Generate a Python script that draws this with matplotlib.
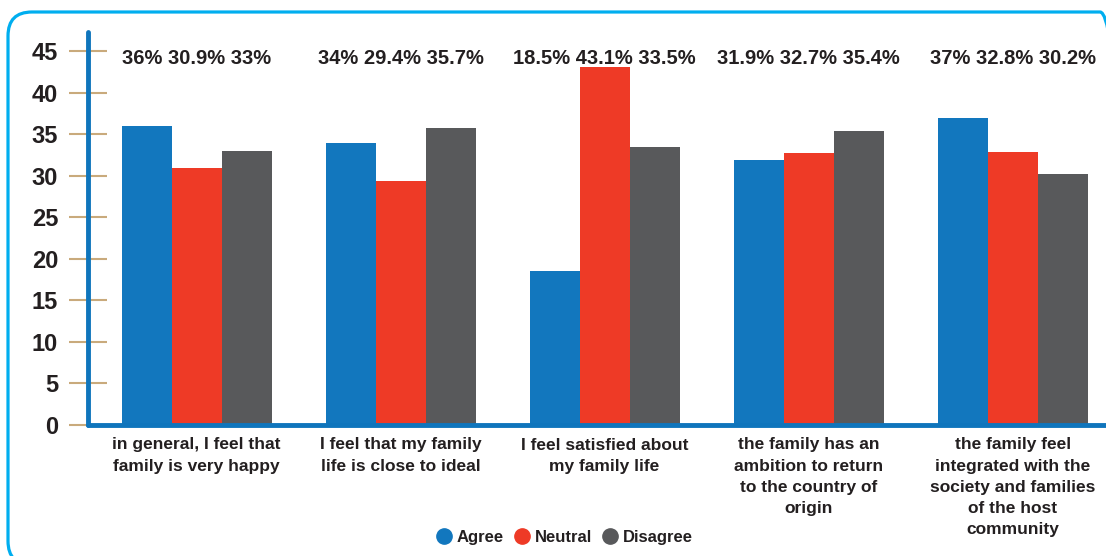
import matplotlib.pyplot as plt
from matplotlib.lines import Line2D
from matplotlib.patches import FancyBboxPatch
import numpy as np

plt.rcParams['font.family'] = ['Liberation Sans', 'DejaVu Sans']
plt.rcParams['font.weight'] = 'bold'

categories = [
    "in general, I feel that\nfamily is very happy",
    "I feel that my family\nlife is close to ideal",
    "I feel satisfied about\nmy family life",
    "the family has an\nambition to return\nto the country of\norigin",
    "the family feel\nintegrated with the\nsociety and families\nof the host\ncommunity",
]
series = ["Agree", "Neutral", "Disagree"]
agree = [36, 34, 18.5, 31.9, 37]
neutral = [30.9, 29.4, 43.1, 32.7, 32.8]
disagree = [33, 35.7, 33.5, 35.4, 30.2]
colors = ["#1277be", "#ee3a26", "#58595b"]
yticks = [0, 5, 10, 15, 20, 25, 30, 35, 40, 45]

txt = "#231f20"
W, H = 1106, 556
fig = plt.figure(figsize=(W / 100, H / 100), dpi=100)
ax = fig.add_axes([88 / W, 1 - 425 / H, 1 - 88 / W, (425 - 32) / H])

# rounded frame around the whole chart, sized in pixels then scaled to figure units
left, right, top, bottom, r = 8, 1124, 12, 565, 24
frame = FancyBboxPatch((left / W, (H - bottom) / H), (right - left) / W, (bottom - top) / H,
                       boxstyle=f"round,pad=0,rounding_size={r / W}",
                       mutation_aspect=W / H, transform=fig.transFigure,
                       fill=False, edgecolor="#00aeef", linewidth=2.3, clip_on=False)
fig.patches.append(frame)

x = np.arange(len(categories))
w = 0.245
for i, (vals, c, name) in enumerate(zip([agree, neutral, disagree], colors, series)):
    ax.bar(x + (i - 1) * w, vals, width=w, color=c, label=name, zorder=2)

# percentage labels above each group
for k in range(len(categories)):
    s = " ".join(f"{v:g}%" for v in (agree[k], neutral[k], disagree[k]))
    ax.text(x[k], 43.45, s, ha="center", va="baseline",
            fontsize=14.5, fontweight="bold", color=txt)

ax.set_xlim(-0.532, 4.458)
ax.set_ylim(0, 47.3)
ax.set_yticks(yticks)
ax.set_yticklabels([str(t) for t in yticks], fontsize=17, fontweight="bold", color=txt)
ax.tick_params(axis="y", direction="inout", length=27, width=1.5,
               color="#c9aa7c", pad=8)
ax.set_xticks(x)
ax.set_xticklabels(categories, fontsize=12.5, fontweight="bold", color=txt,
                   va="top", linespacing=1.52)
ax.tick_params(axis="x", length=0, pad=9)

for side in ["top", "right"]:
    ax.spines[side].set_visible(False)
for side in ["left", "bottom"]:
    ax.spines[side].set_color("#0f75bc")
    ax.spines[side].set_linewidth(3.5)
    ax.spines[side].set_capstyle("round")
ax.patch.set_alpha(0)

handles = [Line2D([], [], marker="o", linestyle="", markersize=11,
                  markerfacecolor=c, markeredgecolor=c) for c in colors]
fig.legend(handles, series, loc="center", bbox_to_anchor=(0.51, 0.034),
           ncol=3, frameon=False, handletextpad=0.25, handlelength=1.0,
           columnspacing=0.6, prop={"size": 12, "weight": "bold"},
           labelcolor=txt)

fig.savefig("out.png", dpi=100)
